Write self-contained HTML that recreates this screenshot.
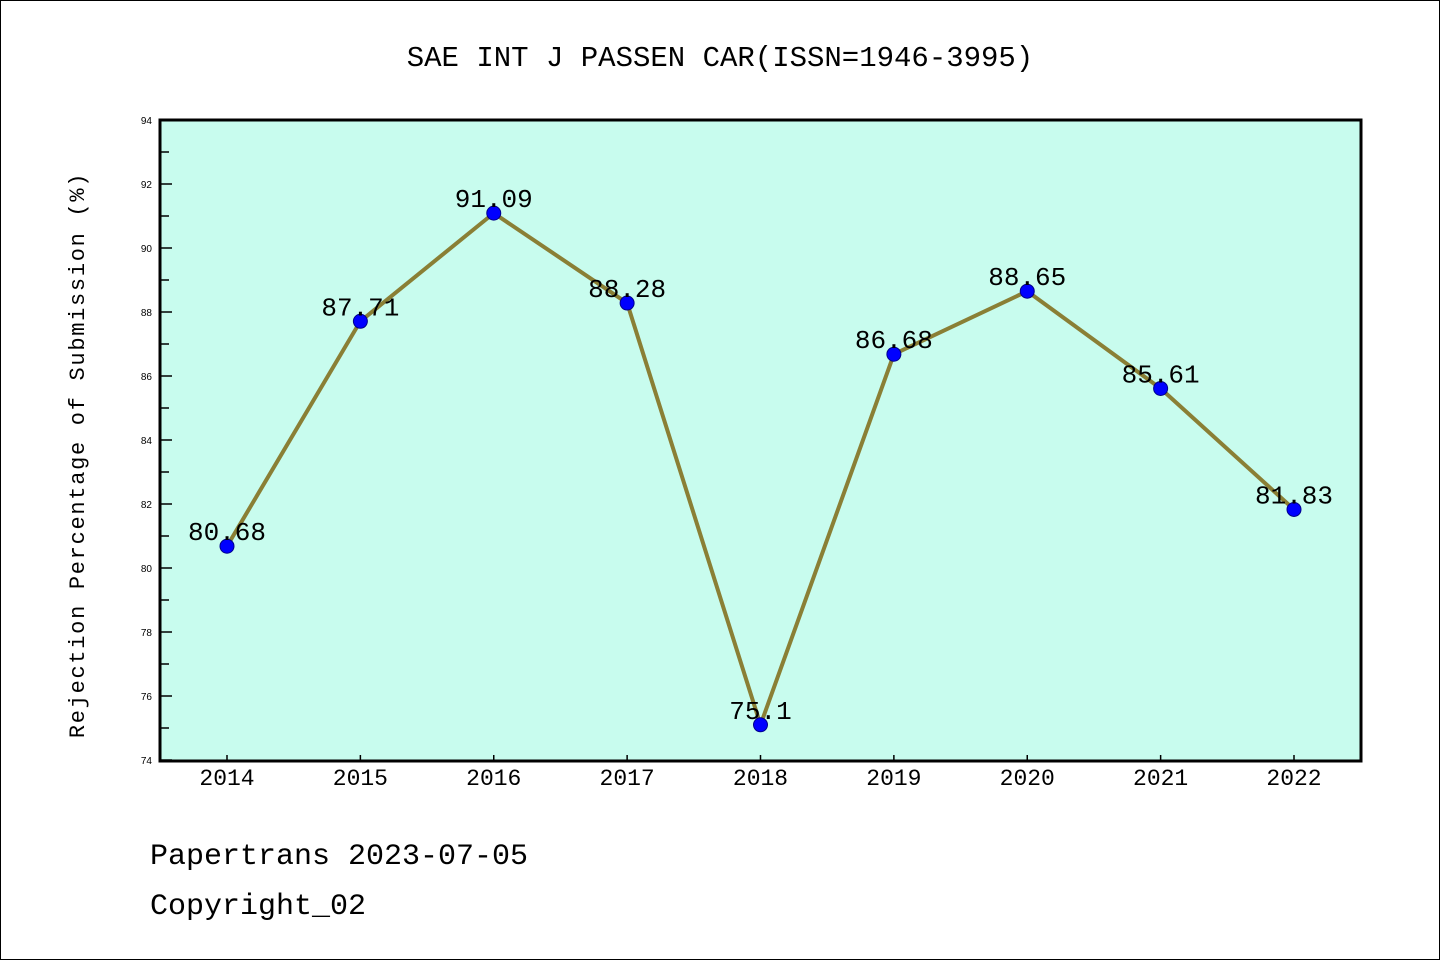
<!DOCTYPE html>
<html><head><meta charset="utf-8"><style>
html,body{margin:0;padding:0;background:#fff;}
svg{display:block;font-family:"Liberation Mono",monospace;}
</style></head><body>
<svg id="chart" width="1440" height="960" viewBox="0 0 1440 960">
<rect x="0.5" y="0.5" width="1439" height="959" fill="#fff" stroke="#000" stroke-width="1"/>
<text x="720" y="66" text-anchor="middle" font-size="29">SAE INT J PASSEN CAR(ISSN=1946-3995)</text>
<rect x="160" y="120" width="1201" height="641" fill="#c8fcee"/>
<g id="yaxis"></g>
<g id="xaxis"></g>
<g id="series"></g>
<rect x="160" y="120" width="1201" height="641" fill="none" stroke="#000" stroke-width="3"/>
<text transform="translate(84,455) rotate(-90)" text-anchor="middle" font-size="22" letter-spacing="1.7">Rejection Percentage of Submission (%)</text>
<text x="150" y="864" font-size="30">Papertrans 2023-07-05</text>
<text x="150" y="914" font-size="30">Copyright_02</text>
</svg>
<script>
const categories = ["2014","2015","2016","2017","2018","2019","2020","2021","2022"];
const values = [80.68,87.71,91.09,88.28,75.1,86.68,88.65,85.61,81.83];
const valueLabels = ["80.68","87.71","91.09","88.28","75.1","86.68","88.65","85.61","81.83"];
const yTicks = [74,76,78,80,82,84,86,88,90,92,94];
const yMin = 74, yMax = 94;
const NS = "http://www.w3.org/2000/svg";
function y(v){ return 760 - (v - yMin) / (yMax - yMin) * 640; }
function x(i){ return 227 + i * (1294 - 227) / (categories.length - 1); }
function mk(tag, attrs, parent){ const e = document.createElementNS(NS, tag); for (const k in attrs) e.setAttribute(k, attrs[k]); parent.appendChild(e); return e; }
const ya = document.getElementById('yaxis');
yTicks.forEach((t, i) => {
  const tk = mk('line', {x1:160, x2:172, y1:y(t), y2:y(t), stroke:'#000', 'stroke-width':1.5}, ya);
  
  
  const lb = mk('text', {x:152, y:y(t)+4, 'text-anchor':'end', 'font-size':10, 'font-family':'Liberation Sans, sans-serif'}, ya);
  lb.textContent = t;
  
  
  if (i < yTicks.length - 1) {
    const m = (t + yTicks[i+1]) / 2;
    const mn = mk('line', {x1:160, x2:169, y1:y(m), y2:y(m), stroke:'#000', 'stroke-width':1.5}, ya);
    
    
  }
});
const xa = document.getElementById('xaxis');
categories.forEach((c, i) => {
  const tk = mk('line', {x1:x(i), x2:x(i), y1:761, y2:755, stroke:'#000', 'stroke-width':1.5}, xa);
  
  
  const lb = mk('text', {x:x(i), y:785, 'text-anchor':'middle', 'font-size':23}, xa);
  lb.textContent = c;
  
  
});
const s = document.getElementById('series');
const line = mk('polyline', {points: values.map((v,i)=>x(i)+','+y(v)).join(' '), fill:'none', stroke:'#8a7f35', 'stroke-width':4, 'stroke-linejoin':'round'}, s);


values.forEach((v, i) => {
  const p = mk('circle', {cx:x(i), cy:y(v), r:7, fill:'#0000ff', stroke:'#00008b', 'stroke-width':1}, s);
  
  
  const t = mk('text', {x:x(i), y:y(v)-6, 'text-anchor':'middle', 'font-size':26}, s);
  t.textContent = valueLabels[i];
  
  
});
</script>
</body></html>
